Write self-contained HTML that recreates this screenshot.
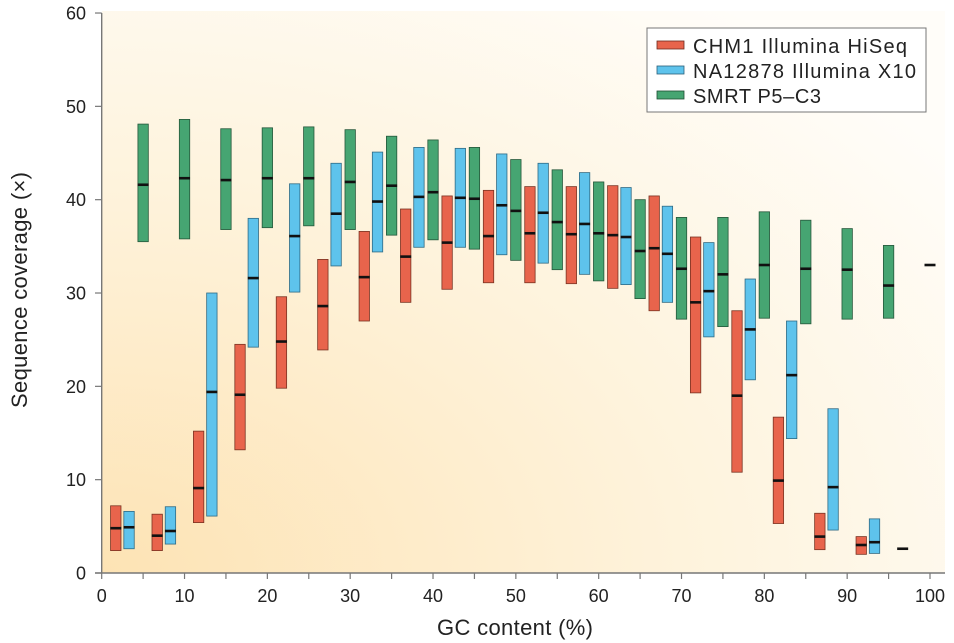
<!DOCTYPE html>
<html><head><meta charset="utf-8">
<style>
html,body{margin:0;padding:0;background:#fff;}
svg{display:block;font-family:"Liberation Sans","DejaVu Sans",sans-serif;}
</style></head>
<body>
<svg id="chart" width="954" height="643" viewBox="0 0 954 643" xmlns="http://www.w3.org/2000/svg">
<defs>
<radialGradient id="bg" cx="0" cy="1" r="1.25" gradientUnits="objectBoundingBox">
<stop offset="0" stop-color="#fde3b4"/>
<stop offset="0.55" stop-color="#fef3dc"/>
<stop offset="1" stop-color="#fffdf9"/>
</radialGradient>
</defs>
<rect x="102" y="11" width="843" height="562" fill="url(#bg)"/>
<g id="bars"></g>
<g id="axes"></g>
<g>
<rect x="647" y="28" width="279" height="84" fill="#fff" stroke="#777" stroke-width="1"/>
<rect x="657" y="41" width="27" height="8" fill="#e8644c" stroke="#6b2a1e" stroke-width="0.8"/>
<text x="693" y="53" font-size="20" fill="#222" textLength="214">CHM1 Illumina HiSeq</text>
<rect x="657" y="66" width="27" height="8" fill="#5ec3ec" stroke="#2a5f78" stroke-width="0.8"/>
<text x="693" y="78" font-size="20" fill="#222" textLength="223">NA12878 Illumina X10</text>
<rect x="657" y="91" width="27" height="8" fill="#46a572" stroke="#1f4d33" stroke-width="0.8"/>
<text x="693" y="103" font-size="20" fill="#222" textLength="128">SMRT P5–C3</text>
</g>
<text x="515" y="635" font-size="22" fill="#222" text-anchor="middle" textLength="156">GC content (%)</text>
<text transform="translate(27,290) rotate(-90)" font-size="22" fill="#222" text-anchor="middle" textLength="236">Sequence coverage (×)</text>
</svg>
<script>
const redX=[1.7,6.7,11.7,16.7,21.7,26.7,31.7,36.7,41.7,46.7,51.7,56.7,61.7,66.7,71.7,76.7,81.7,86.7,91.7,96.7];
const redHi=[7.2,6.3,15.2,24.5,29.6,33.6,36.6,39.0,40.4,41.0,41.4,41.4,41.5,40.4,36.0,28.1,16.7,6.4,3.9,2.6];
const redMed=[4.8,4.0,9.1,19.1,24.8,28.6,31.7,33.9,35.4,36.1,36.4,36.3,36.2,34.8,29.0,19.0,9.9,3.9,3.0,2.6];
const redLo=[2.4,2.4,5.4,13.2,19.8,23.9,27.0,29.0,30.4,31.1,31.1,31.0,30.5,28.1,19.3,10.8,5.3,2.5,2.0,2.6];
const blueX=[3.3,8.3,13.3,18.3,23.3,28.3,33.3,38.3,43.3,48.3,53.3,58.3,63.3,68.3,73.3,78.3,83.3,88.3,93.3];
const blueHi=[6.6,7.1,30.0,38.0,41.7,43.9,45.1,45.6,45.5,44.9,43.9,42.9,41.3,39.3,35.4,31.5,27.0,17.6,5.8];
const blueMed=[4.9,4.5,19.4,31.6,36.1,38.5,39.8,40.3,40.2,39.4,38.6,37.4,36.0,34.2,30.2,26.1,21.2,9.2,3.3];
const blueLo=[2.6,3.1,6.1,24.2,30.1,32.9,34.4,34.9,34.9,34.1,33.2,32.0,30.9,29.0,25.3,20.7,14.4,4.6,2.1];
const greenX=[5,10,15,20,25,30,35,40,45,50,55,60,65,70,75,80,85,90,95,100];
const greenHi=[48.1,48.6,47.6,47.7,47.8,47.5,46.8,46.4,45.6,44.3,43.2,41.9,40.0,38.1,38.1,38.7,37.8,36.9,35.1,33.0];
const greenMed=[41.6,42.3,42.1,42.3,42.3,41.9,41.5,40.8,40.1,38.8,37.6,36.4,34.5,32.6,32.0,33.0,32.6,32.5,30.8,33.0];
const greenLo=[35.5,35.8,36.8,37.0,37.2,36.8,36.2,35.7,34.7,33.5,32.5,31.3,29.4,27.2,26.4,27.3,26.7,27.2,27.3,33.0];
const xTicks=[0,10,20,30,40,50,60,70,80,90,100];
const yTicks=[0,10,20,30,40,50,60];

const NS="http://www.w3.org/2000/svg";
const sx=v=>101.7+v*8.283;
const sy=v=>573-v*9.333;
const bars=document.getElementById('bars');
const axes=document.getElementById('axes');
function mk(tag,attrs,parent){const e=document.createElementNS(NS,tag);for(const k in attrs)e.setAttribute(k,attrs[k]);parent.appendChild(e);return e;}
function series(name,X,Hi,Med,Lo,fill,stroke){
  for(let i=0;i<X.length;i++){
    const cx=sx(X[i]);
    if(Hi[i]>Lo[i]){
      const r=mk('rect',{x:cx-5.2,y:sy(Hi[i]),width:10.4,height:sy(Lo[i])-sy(Hi[i]),fill:fill,stroke:stroke,'stroke-width':0.8},bars);
      
      
    }
    const m=mk('line',{x1:cx-5.5,x2:cx+5.5,y1:sy(Med[i]),y2:sy(Med[i]),stroke:'#111','stroke-width':2.6},bars);
    
    
  }
}
series('chm1',redX,redHi,redMed,redLo,'#e8644c','#7a3322');
series('na12878',blueX,blueHi,blueMed,blueLo,'#5ec3ec','#2f6a84');
series('smrt',greenX,greenHi,greenMed,greenLo,'#46a572','#24573a');

const ya=mk('line',{x1:101.7,x2:101.7,y1:sy(60),y2:573,stroke:'#777','stroke-width':1.4},axes);


const xa=mk('line',{x1:95,x2:945,y1:573,y2:573,stroke:'#777','stroke-width':1.4},axes);


yTicks.forEach(v=>{
  mk('line',{x1:95,x2:101.7,y1:sy(v),y2:sy(v),stroke:'#777','stroke-width':1.2},axes);
  const t=mk('text',{x:86,y:sy(v)+6.5,'font-size':18,fill:'#222','text-anchor':'end'},axes);
  t.textContent=v;
  
  
});
for(let v=0;v<=100;v+=5){
  mk('line',{x1:sx(v),x2:sx(v),y1:573,y2:579,stroke:'#777','stroke-width':1.2},axes);
}
xTicks.forEach(v=>{
  const t=mk('text',{x:sx(v),y:602,'font-size':18,fill:'#222','text-anchor':'middle'},axes);
  t.textContent=v;
  
  
});
</script>
</body></html>
